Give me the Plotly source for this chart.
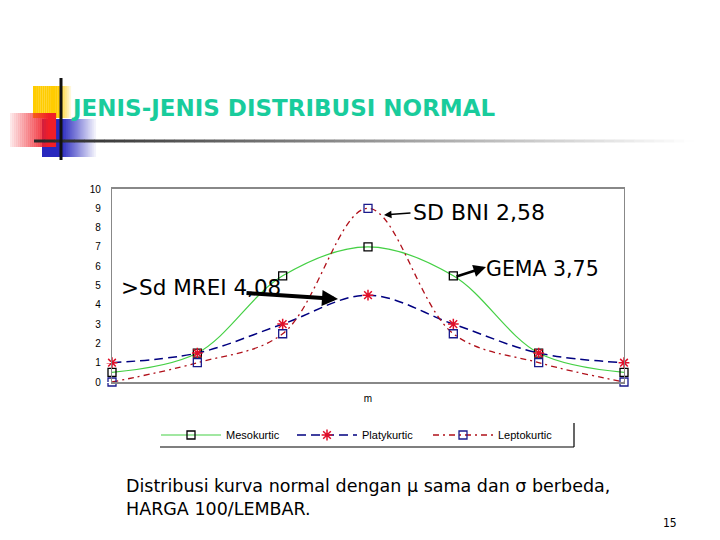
import plotly.graph_objects as go

# data
positions = [0, 1, 2, 3, 4, 5, 6]
mesokurtic = [0.5, 1.5, 5.5, 7, 5.5, 1.5, 0.5]
platykurtic = [1, 1.5, 3, 4.5, 3, 1.5, 1]
leptokurtic = [0, 1, 2.5, 9, 2.5, 1, 0]
y_ticks = list(range(0, 11))

W, H = 720, 540


def px(x):
    return x / W


def py(y):
    return 1 - y / H


fig = go.Figure()

fig.add_trace(go.Scatter(
    x=positions, y=mesokurtic, name='Mesokurtic', mode='lines+markers',
    line=dict(color='#45d045', width=1.2, shape='spline', smoothing=1),
    marker=dict(symbol='square-open', size=8, color='black', line=dict(color='black', width=1.3)),
    cliponaxis=False,
))
fig.add_trace(go.Scatter(
    x=positions, y=platykurtic, name='Platykurtic', mode='lines+markers',
    line=dict(color='#000080', width=1.5, dash='9px,5px', shape='spline', smoothing=1),
    marker=dict(symbol='asterisk-open', size=9, color='#e0102a', line=dict(color='#e0102a', width=1.5)),
    cliponaxis=False,
))
fig.add_trace(go.Scatter(
    x=positions, y=leptokurtic, name='Leptokurtic', mode='lines+markers',
    line=dict(color='#b0101a', width=1.3, dash='6px,4px,2px,4px', shape='spline', smoothing=1),
    marker=dict(symbol='square-open', size=8, color='#1a1a8c', line=dict(color='#1a1a8c', width=1.3)),
    cliponaxis=False,
))

shapes = []

# decorative blocks next to the title
# yellow square, fading out on the right
for i in range(20):
    x0 = 33 + i * 1.9
    a = 1.0 if i < 14 else max(0.0, 1 - (i - 13) / 7)
    shapes.append(dict(type='rect', xref='paper', yref='paper', x0=px(x0), x1=px(x0 + 2),
                       y0=py(118), y1=py(86), fillcolor=f'rgba(255,204,0,{a:.2f})', line_width=0, layer='below'))
# blue square, fading to the right
for i in range(28):
    x0 = 42 + i * 2
    a = 1.0 if i < 10 else max(0.0, 1 - (i - 9) / 18)
    shapes.append(dict(type='rect', xref='paper', yref='paper', x0=px(x0), x1=px(x0 + 2.1),
                       y0=py(157), y1=py(119), fillcolor=f'rgba(40,40,190,{a:.2f})', line_width=0, layer='below'))
# red square, white on the left to red on the right
for i in range(23):
    x0 = 10 + i * 2
    a = min(1.0, 0.1 + i / 21)
    shapes.append(dict(type='rect', xref='paper', yref='paper', x0=px(x0), x1=px(x0 + 2.1),
                       y0=py(147), y1=py(113), fillcolor=f'rgba(240,30,40,{a:.2f})', line_width=0, layer='below'))
# horizontal rule fading to white
for i in range(66):
    x0 = 34 + i * 10
    g = int(min(255, 40 + i * 3.3))
    shapes.append(dict(type='line', xref='paper', yref='paper', x0=px(x0), x1=px(x0 + 10.5),
                       y0=py(141), y1=py(141), line=dict(color=f'rgb({g},{g},{g})', width=3)))
# vertical black bar
shapes.append(dict(type='line', xref='paper', yref='paper', x0=px(61), x1=px(61),
                   y0=py(78), y1=py(160), line=dict(color='#111111', width=3)))

# legend frame (shadow lines right and bottom)
shapes.append(dict(type='line', xref='paper', yref='paper', x0=px(574), x1=px(574),
                   y0=py(447), y1=py(423), line=dict(color='black', width=1.2)))
shapes.append(dict(type='line', xref='paper', yref='paper', x0=px(160), x1=px(574),
                   y0=py(447), y1=py(447), line=dict(color='black', width=1.2)))

annotations = [
    dict(text='JENIS-JENIS DISTRIBUSI NORMAL', x=px(69), y=py(108), xref='paper', yref='paper',
         xanchor='left', yanchor='middle', showarrow=False,
         font=dict(family='DejaVu Sans', size=23, color='#19cc9c', weight='bold')),
    dict(text='SD BNI 2,58', x=px(411), y=py(213), xref='paper', yref='paper',
         xanchor='left', yanchor='middle', showarrow=False,
         font=dict(family='DejaVu Sans', size=22, color='black')),
    dict(text='GEMA 3,75', x=px(484), y=py(269), xref='paper', yref='paper',
         xanchor='left', yanchor='middle', showarrow=False,
         font=dict(family='DejaVu Sans', size=20.5, color='black')),
    dict(text='>Sd MREI 4,08', x=px(119), y=py(287), xref='paper', yref='paper',
         xanchor='left', yanchor='middle', showarrow=False,
         font=dict(family='DejaVu Sans', size=21.5, color='black')),
    # arrows
    dict(text='', x=px(384), y=py(215), xref='paper', yref='paper', showarrow=True,
         ax=28, ay=-2, arrowhead=2, arrowsize=1, arrowwidth=1.5, arrowcolor='black'),
    dict(text='', x=px(486), y=py(267), xref='paper', yref='paper', showarrow=True,
         ax=-31, ay=10, arrowhead=2, arrowsize=1, arrowwidth=2.5, arrowcolor='black'),
    dict(text='', x=px(338), y=py(299), xref='paper', yref='paper', showarrow=True,
         ax=-93, ay=-6, arrowhead=2, arrowsize=0.8, arrowwidth=4, arrowcolor='black'),
    # caption
    dict(text='Distribusi kurva normal dengan μ sama dan σ berbeda,<br>HARGA 100/LEMBAR.',
         x=px(124), y=py(497), xref='paper', yref='paper', xanchor='left', yanchor='middle',
         align='left', showarrow=False,
         font=dict(family='DejaVu Sans', size=17.5, color='black')),
    dict(text='15', x=px(679), y=py(523), xref='paper', yref='paper', xanchor='right', yanchor='middle',
         showarrow=False, font=dict(family='DejaVu Sans Condensed', size=12, color='black')),
]

fig.update_layout(
    width=W, height=H,
    margin=dict(l=0, r=0, t=0, b=0, autoexpand=False),
    paper_bgcolor='white', plot_bgcolor='white',
    font=dict(family='Arial, Liberation Sans, sans-serif', color='black'),
    shapes=shapes,
    annotations=annotations,
    showlegend=True,
    legend=dict(orientation='h', x=px(156), y=py(435), xanchor='left', yanchor='middle',
                font=dict(size=11, family='Arial, Liberation Sans, sans-serif'),
                entrywidth=61, entrywidthmode='pixels', itemwidth=60,
                bgcolor='rgba(0,0,0,0)'),
    xaxis=dict(domain=[px(112), px(624)], range=[0, 6], showgrid=False, zeroline=False,
               showticklabels=False, ticks='', showline=True, linecolor='#888888', linewidth=1.5,
               mirror=True, title=dict(text='m', font=dict(size=10), standoff=12)),
    yaxis=dict(domain=[py(382), py(189)], range=[0, 10], tickvals=y_ticks, showgrid=False,
               zeroline=False, showline=True, linecolor='#888888', linewidth=1.2, mirror=True,
               ticks='outside', ticklen=5, tickcolor='white', tickfont=dict(size=10),
               ticklabelstandoff=3),
)

# page margin off so the slide sits at the top-left corner
fig.write_html("out.html", config={'displayModeBar': False},
               post_script="document.body.style.margin='0';")
